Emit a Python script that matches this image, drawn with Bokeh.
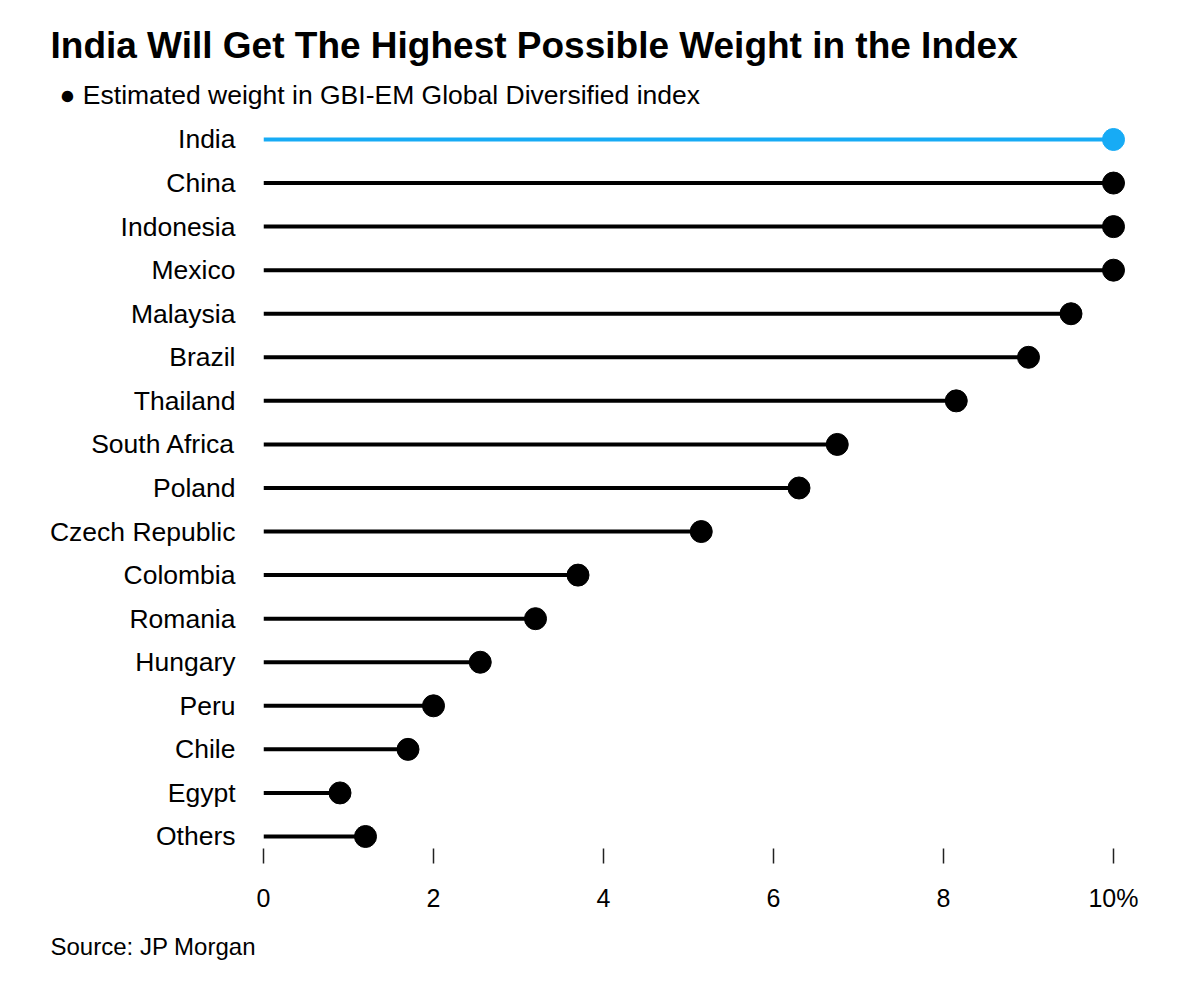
from bokeh.plotting import figure
from bokeh.models import Range1d, Title, FixedTicker, ColumnDataSource
from bokeh.embed import file_html
from bokeh.resources import INLINE

# ---- data ----
countries = ["India", "China", "Indonesia", "Mexico", "Malaysia", "Brazil", "Thailand",
             "South Africa", "Poland", "Czech Republic", "Colombia", "Romania",
             "Hungary", "Peru", "Chile", "Egypt", "Others"]
weights = [10.0, 10.0, 10.0, 10.0, 9.5, 9.0, 8.15, 6.75, 6.3, 5.15, 3.7, 3.2,
           2.55, 2.0, 1.7, 0.9, 1.2]
highlight = "India"
x_ticks = [0, 2, 4, 6, 8, 10]
x_tick_labels = ["0", "2", "4", "6", "8", "10%"]

title_text = "India Will Get The Highest Possible Weight in the Index"
subtitle_text = "\u25CF Estimated weight in GBI-EM Global Diversified index"
source_text = "Source: JP Morgan"

BLUE = "#17abf5"
FONT = "Liberation Sans"

n = len(countries)
ypos = [n - 1 - i for i in range(n)]
colors = [BLUE if c == highlight else "#000000" for c in countries]

src = ColumnDataSource(dict(y=ypos, w=weights, zero=[0] * n, c=colors, name=countries))

p = figure(width=1192, height=978,
           x_range=Range1d(0, 10.6), y_range=Range1d(-0.2755, 16.505),
           output_backend="svg", toolbar_location=None,
           min_border_left=263, min_border_right=28, min_border_top=117,
           min_border_bottom=130)

p.segment(x0="zero", y0="y", x1="w", y1="y", line_color="c", line_width=4, source=src)
p.scatter(x="w", y="y", size=22, fill_color="c", line_color="c", source=src)

p.outline_line_color = None
p.grid.grid_line_color = None
p.background_fill_color = "white"
p.border_fill_color = "white"

# x axis
xa = p.xaxis[0]
xa.ticker = FixedTicker(ticks=x_ticks)
xa.major_label_overrides = {t: l for t, l in zip(x_ticks, x_tick_labels)}
xa.axis_line_color = None
xa.minor_tick_line_color = None
xa.major_tick_in = 0
xa.major_tick_out = 15
xa.major_tick_line_color = "#222222"
xa.major_tick_line_width = 1.5
xa.major_label_standoff = 20
xa.major_label_text_font = FONT
xa.major_label_text_font_size = "25px"
xa.major_label_text_color = "#000000"

# y axis
ya = p.yaxis[0]
ya.ticker = FixedTicker(ticks=ypos)
ya.major_label_overrides = {y: c for y, c in zip(ypos, countries)}
ya.axis_line_color = None
ya.minor_tick_line_color = None
ya.major_tick_line_color = None
ya.major_tick_in = 0
ya.major_tick_out = 0
ya.major_label_standoff = 28
ya.major_label_text_font = FONT
ya.major_label_text_font_size = "26.5px"
ya.major_label_text_color = "#000000"

# titles (first added above is closest to frame)
p.add_layout(Title(text=subtitle_text, align="left", offset=-204,
                   text_font=FONT, text_font_size="26.5px", text_font_style="normal",
                   text_color="#000000", standoff=15), "above")
p.add_layout(Title(text=title_text, align="left", offset=-213,
                   text_font=FONT, text_font_size="37px", text_font_style="bold",
                   text_color="#000000", standoff=9), "above")
p.add_layout(Title(text=source_text, align="left", offset=-213,
                   text_font=FONT, text_font_size="24px", text_font_style="normal",
                   text_color="#000000", standoff=33), "below")

open("out.html", "w").write(file_html(p, INLINE))
